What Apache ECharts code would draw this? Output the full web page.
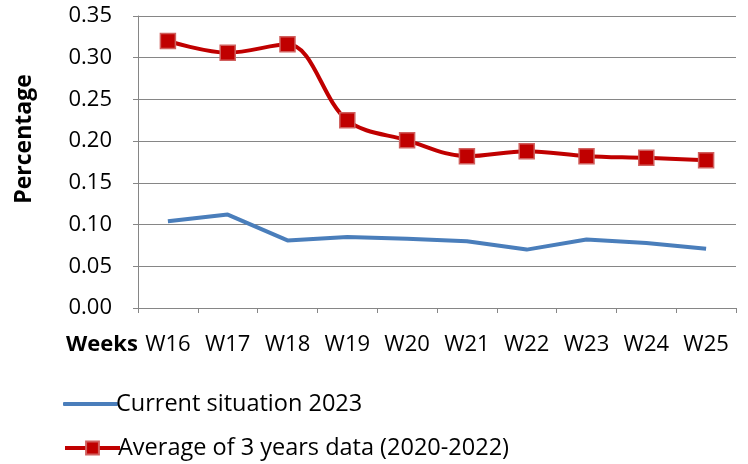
<!DOCTYPE html>
<html>
<head>
<meta charset="utf-8">
<script src="https://cdn.jsdelivr.net/npm/echarts@6/dist/echarts.min.js"></script>
<style>html,body{margin:0;padding:0;background:#fff}#c{width:748px;height:464px}</style>
</head>
<body>
<div id="c"></div>
<script>
const categories = ['W16','W17','W18','W19','W20','W21','W22','W23','W24','W25'];
const current2023 = [0.104, 0.112, 0.081, 0.085, 0.083, 0.080, 0.070, 0.082, 0.078, 0.071];
const avg3Years = [0.320, 0.306, 0.316, 0.225, 0.201, 0.182, 0.188, 0.182, 0.180, 0.177];
const seriesNames = ['Current situation 2023', 'Average of 3 years data (2020-2022)'];
const yAxisTitle = 'Percentage';
const xAxisTitle = 'Weeks';

const FONT = '"Open Sans", "Noto Sans", sans-serif';
const chart = echarts.init(document.getElementById('c'));
chart.setOption({
  animation: false,
  textStyle: { fontFamily: FONT },
  grid: { left: 138, right: 12, top: 16, bottom: 156, outerBoundsMode: 'none', containLabel: false },
  xAxis: {
    type: 'category',
    data: categories,
    boundaryGap: true,
    axisLine: { lineStyle: { color: '#868686', width: 1 } },
    axisTick: { show: true, length: 5, lineStyle: { color: '#868686' } },
    axisLabel: { color: '#000', fontSize: 22, fontFamily: FONT, margin: 26 }
  },
  yAxis: {
    type: 'value',
    min: 0, max: 0.35, interval: 0.05,
    axisLine: { show: true, lineStyle: { color: '#868686', width: 1 } },
    axisTick: { show: true, length: 5, lineStyle: { color: '#868686' } },
    axisLabel: { color: '#000', fontSize: 22, fontFamily: FONT, margin: 26,
      formatter: v => v.toFixed(2) },
    splitLine: { show: true, lineStyle: { color: '#868686', width: 1 } }
  },
  legend: [
    {
      orient: 'vertical',
      left: 58, top: 387,
      itemWidth: 55, itemHeight: 4,
      textStyle: { color: '#000', fontSize: 23.5, fontFamily: FONT, padding: [0,0,0,-7] },
      data: [{ name: seriesNames[0], icon: 'roundRect' }]
    },
    {
      orient: 'vertical',
      left: 58, top: 431,
      itemWidth: 55, itemHeight: 16,
      lineStyle: { width: 4, color: '#c00000' },
      textStyle: { color: '#000', fontSize: 23.5, fontFamily: FONT, padding: [0,0,0,-7] },
      data: [seriesNames[1]]
    }
  ],
  graphic: [
    {
      type: 'text', left: 66, top: 334,
      style: { text: xAxisTitle, fontSize: 22, fontWeight: 'bold', fontFamily: FONT, fill: '#000' }
    },
    {
      type: 'text', x: 24, y: 139, rotation: Math.PI / 2,
      style: { text: yAxisTitle, fontSize: 23, fontWeight: 'bold', fontFamily: FONT, fill: '#000',
        align: 'center', verticalAlign: 'middle' }
    }
  ],
  series: [
    {
      name: seriesNames[0], type: 'line', data: current2023,
      symbol: 'none', smooth: false,
      lineStyle: { color: '#4a7ebb', width: 4 },
      itemStyle: { color: '#4a7ebb' }
    },
    {
      name: seriesNames[1], type: 'line', data: avg3Years,
      symbol: 'rect', symbolSize: 15, smooth: 0.35,
      lineStyle: { color: '#c00000', width: 4 },
      itemStyle: { color: '#c00000', borderColor: '#d0605e', borderWidth: 1.5 }
    }
  ]
});
</script>
</body>
</html>
